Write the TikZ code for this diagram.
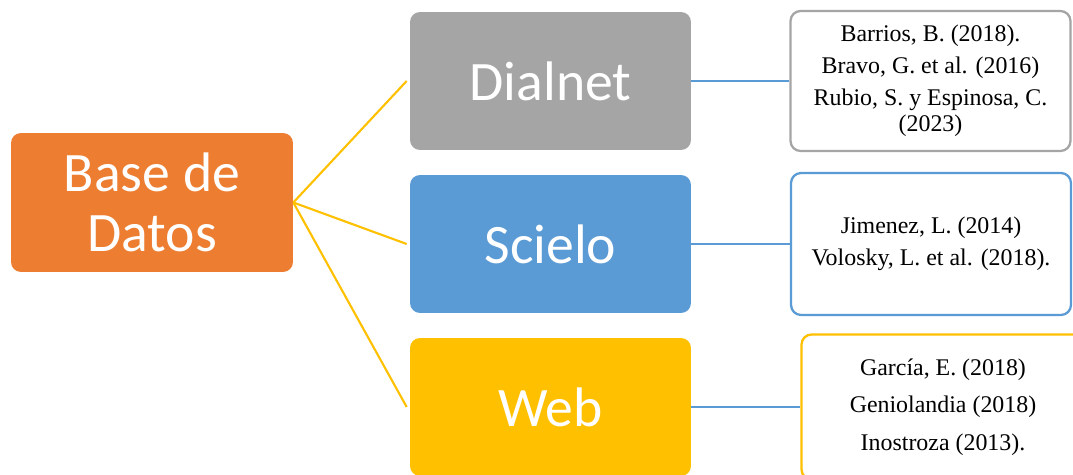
\documentclass[tikz,border=0pt]{standalone}
\usepackage{fontspec}
\setmainfont{Liberation Serif}
\newfontfamily\calibri{Carlito}
\usetikzlibrary{positioning,calc}
\definecolor{dbOrange}{HTML}{ED7D31}
\definecolor{dbGray}{HTML}{A5A5A5}
\definecolor{dbBlue}{HTML}{5B9BD5}
\definecolor{dbYellow}{HTML}{FFC000}

\begin{document}
\begin{tikzpicture}[
    x=0.02cm,
    y=-0.02cm,
    every node/.style={
        rounded corners=0.2cm,
        align=center,
        inner sep=2pt
    },
    mainbox/.style={
        fill=dbOrange,
        text=white,
        minimum width=5.64cm,
        minimum height=2.78cm,
        font=\calibri\fontsize{31.7}{34}\selectfont
    },
    sourcebox/.style={
        text=white,
        minimum width=5.62cm,
        minimum height=2.76cm,
        font=\calibri\fontsize{31.7}{34}\selectfont
    },
    refbox/.style={
        draw,
        fill=white,
        line width=1.3pt,
        minimum width=5.6cm,
        minimum height=2.8cm,
        font=\fontsize{13.6}{19.6}\selectfont
    },
    link/.style={draw=dbYellow, line width=1.2pt},
    reflink/.style={draw=dbBlue, line width=1.3pt}
]
\useasboundingbox (0,0) rectangle (1073,475);
\clip (0,0) rectangle (1073,475);

% -------- Root --------
\node[mainbox] (base) at (152,202.5) {Base de\\Datos};

% -------- Sources --------
\node[sourcebox, fill=dbGray]   (dialnet) at (550.5,81)    {Dialnet};
\node[sourcebox, fill=dbBlue]   (scielo)  at (550.5,244)   {Scielo};
\node[sourcebox, fill=dbYellow] (web)     at (550.5,407)   {Web};

% -------- References --------
\node[refbox, draw=dbGray] (refDialnet) at (930.5,81)
    {Barrios, B. (2018).\\[-1.2pt] Bravo, G. et al. (2016)\\[-1.6pt] Rubio, S. y Espinosa, C.\\[-4.6pt] (2023)};
\node[refbox, draw=dbBlue, minimum height=2.84cm] (refScielo) at (931,244)
    {Jimenez, L. (2014)\\[-1.5pt] Volosky, L. et al. (2018).};
\node[refbox, draw=dbYellow, minimum width=5.66cm, minimum height=2.9cm] (refWeb) at (943,407)
    {García, E. (2018)\\[1.6pt] Geniolandia (2018)\\[1.6pt] Inostroza (2013).};

% -------- Links --------
\draw[link] (base.east) -- ([xshift=-0.06cm]dialnet.west);
\draw[link] (base.east) -- ([xshift=-0.06cm]scielo.west);
\draw[link] (base.east) -- ([xshift=-0.06cm]web.west);

\draw[reflink] (dialnet.east) -- (refDialnet.west);
\draw[reflink] (scielo.east)  -- (refScielo.west);
\draw[reflink] (web.east)     -- (refWeb.west);

\end{tikzpicture}
\end{document}
